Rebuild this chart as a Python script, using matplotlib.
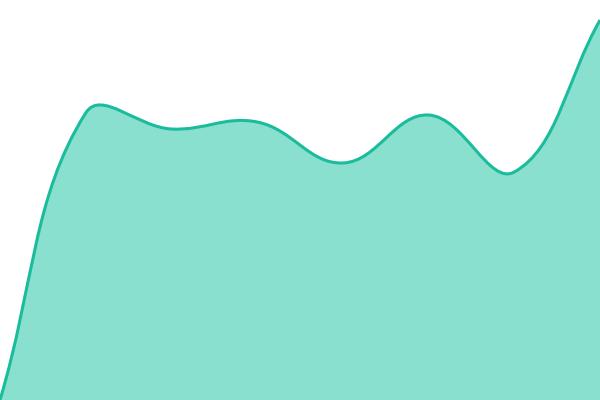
import numpy as np
import matplotlib.pyplot as plt
from matplotlib.path import Path
from matplotlib.patches import PathPatch

# valores (altura, 0..400)
xs = [0, 1, 2, 3, 4, 5, 6, 7]
values = [0, 287, 271, 278, 237, 285, 228, 380]

LINE = '#1abc9c'
FILL = '#8ae0cf'
TENSION = 0.4


def spline_path(ax, x, y):
    # spline com tensao, pontos de controle calculados em pixels
    p = ax.transData.transform(np.column_stack([x, y]).astype(float))
    n = len(p)
    prev_c = [None] * n
    next_c = [None] * n
    for i in range(n):
        cur = p[i]
        prv = p[i - 1] if i > 0 else cur
        nxt = p[i + 1] if i < n - 1 else cur
        d01 = np.hypot(*(cur - prv))
        d12 = np.hypot(*(nxt - cur))
        tot = d01 + d12
        s01 = d01 / tot if tot else 0
        s12 = d12 / tot if tot else 0
        prev_c[i] = cur - TENSION * s01 * (nxt - prv)
        next_c[i] = cur + TENSION * s12 * (nxt - prv)
    verts = [p[0]]
    codes = [Path.MOVETO]
    for i in range(n - 1):
        verts += [next_c[i], prev_c[i + 1], p[i + 1]]
        codes += [Path.CURVE4] * 3
    inv = ax.transData.inverted()
    verts = [tuple(v) for v in inv.transform(np.array(verts))]
    return verts, codes


fig = plt.figure(figsize=(6, 4), dpi=100)
ax = fig.add_axes([0, 0, 1, 1])
ax.set_xlim(xs[0], xs[-1])
ax.set_ylim(0, 400)
ax.axis('off')

verts, codes = spline_path(ax, xs, values)

# area
fill_verts = verts + [(xs[-1], 0), (xs[0], 0), verts[0]]
fill_codes = codes + [Path.LINETO, Path.LINETO, Path.CLOSEPOLY]
ax.add_patch(PathPatch(Path(fill_verts, fill_codes), facecolor=FILL, edgecolor='none'))

# linha
ax.add_patch(PathPatch(Path(verts, codes), facecolor='none', edgecolor=LINE, lw=2.2))

fig.savefig('out.png', dpi=100)
